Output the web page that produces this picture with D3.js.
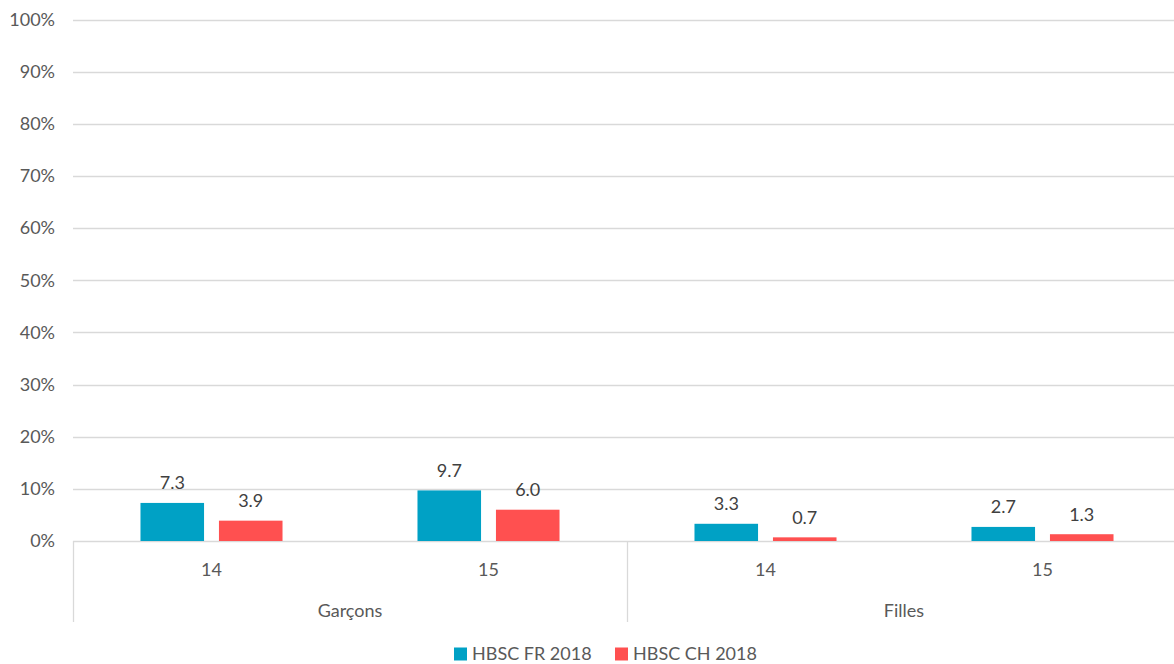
<!DOCTYPE html>
<html><head><meta charset="utf-8">
<script src="https://cdn.jsdelivr.net/npm/d3@7"></script>
<style>
html,body{margin:0;padding:0;background:#fff;}
svg{display:block;font-family:Lato, "Open Sans", sans-serif;}
</style></head>
<body>
<svg id="chart" width="1174" height="664"></svg>
<script>
const groups = ["Garçons", "Filles"];
const ages = ["14", "15"];
const series = ["HBSC FR 2018", "HBSC CH 2018"];
const colors = ["#00A1C5", "#FF5050"];
const frValues = [7.3, 9.7, 3.3, 2.7];
const chValues = [3.9, 6.0, 0.7, 1.3];
const yTicks = [0, 10, 20, 30, 40, 50, 60, 70, 80, 90, 100];

const categories = [];
groups.forEach(g => ages.forEach(a => categories.push({group: g, age: a, key: g + "-" + a})));
const valuesBySeries = [frValues, chValues];

const svg = d3.select("#chart");
const plotLeft = 73, plotRight = 1181, plotTop = 19.5, plotBottom = 541;

const y = d3.scaleLinear().domain([0, 100]).range([plotBottom, plotTop]);
const x = d3.scaleBand().domain(categories.map(c => c.key)).range([plotLeft, plotRight]).padding(0);
const xSub = d3.scaleBand().domain(series).range([0, x.bandwidth()]).paddingInner(0.19).paddingOuter(0.86);
const xGroup = d3.scaleBand().domain(groups).range([plotLeft, plotRight]).padding(0);

const textColor = "#595959";
const gridColor = "#d9d9d9";

// gridlines
svg.append("g").selectAll("line").data(yTicks).join("line")
  .attr("x1", plotLeft).attr("x2", 1174)
  .attr("y1", d => Math.round(y(d)) + 0.5).attr("y2", d => Math.round(y(d)) + 0.5)
  .attr("stroke", gridColor).attr("stroke-width", 1.3);

// y tick labels
svg.append("g").selectAll("text").data(yTicks).join("text")
  .attr("x", 55).attr("y", d => y(d))
  .attr("dy", "0.35em").attr("text-anchor", "end")
  .attr("font-size", 18).attr("fill", textColor)
  .text(d => d + "%");

// bars
const barG = svg.append("g");
series.forEach((s, si) => {
  barG.selectAll(null).data(categories).join("rect")
    .attr("x", c => x(c.key) + xSub(s))
    .attr("width", xSub.bandwidth())
    .attr("y", (c, i) => y(valuesBySeries[si][i]))
    .attr("height", (c, i) => y(0) - y(valuesBySeries[si][i]))
    .attr("fill", colors[si]);
  barG.selectAll(null).data(categories).join("text")
    .attr("x", c => x(c.key) + xSub(s) + xSub.bandwidth() / 2)
    .attr("y", (c, i) => y(valuesBySeries[si][i]) - 20)
    .attr("dy", "0.35em").attr("text-anchor", "middle")
    .attr("font-size", 18).attr("fill", "#404040")
    .text((c, i) => valuesBySeries[si][i].toFixed(1));
});

// category axis dividers
const dividers = groups.map(g => xGroup(g));
svg.append("g").selectAll("line").data(dividers).join("line")
  .attr("x1", d => Math.round(d) + 0.5).attr("x2", d => Math.round(d) + 0.5)
  .attr("y1", plotBottom).attr("y2", 622)
  .attr("stroke", gridColor).attr("stroke-width", 1.3);

// age labels
svg.append("g").selectAll("text").data(categories).join("text")
  .attr("x", c => x(c.key) + x.bandwidth() / 2)
  .attr("y", 570).attr("dy", "0.35em").attr("text-anchor", "middle")
  .attr("font-size", 18).attr("fill", textColor)
  .text(c => c.age);

// group labels
svg.append("g").selectAll("text").data(groups).join("text")
  .attr("x", g => xGroup(g) + xGroup.bandwidth() / 2)
  .attr("y", 611).attr("dy", "0.35em").attr("text-anchor", "middle")
  .attr("font-size", 18).attr("fill", textColor)
  .text(g => g);

// legend
const legendX = [454, 615];
const lg = svg.append("g").selectAll("g").data(series).join("g")
  .attr("transform", (d, i) => `translate(${legendX[i]},654)`);
lg.append("rect").attr("x", 0).attr("y", -6.5).attr("width", 13).attr("height", 13)
  .attr("fill", (d, i) => colors[i]);
lg.append("text").attr("x", 18).attr("y", 0).attr("dy", "0.35em")
  .attr("font-size", 18).attr("fill", textColor).text(d => d);
</script>
</body></html>
